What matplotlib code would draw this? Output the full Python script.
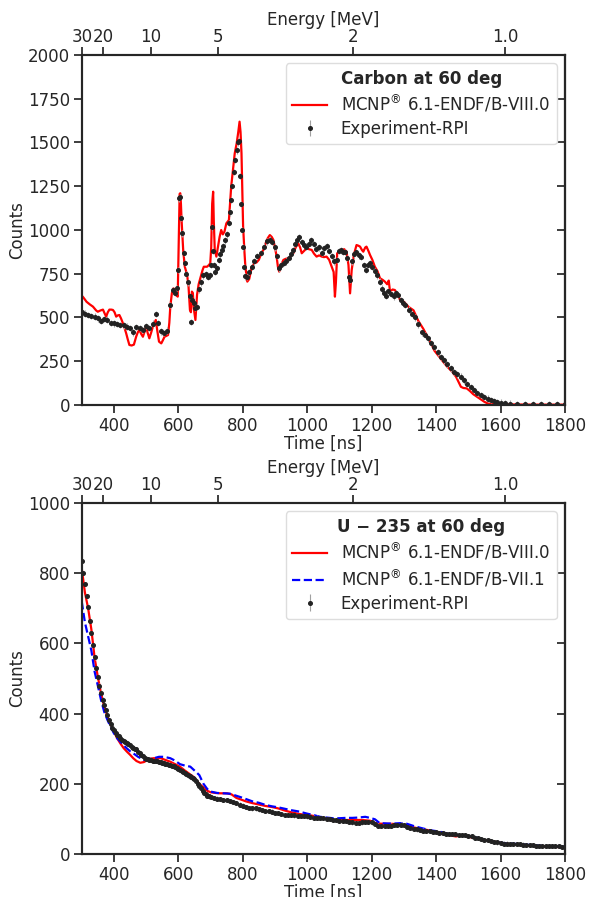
import numpy as np
import matplotlib
matplotlib.use('Agg')
import matplotlib.pyplot as plt
from matplotlib.lines import Line2D

# --- Carbon at 60 deg ---
c_exp_t = [300, 310, 320, 330, 340, 350, 360, 370, 380, 390, 400, 410, 420, 430, 440, 450, 460, 470,
           480, 490, 500, 510, 520, 530, 537, 545, 555, 565, 575, 582, 590, 596, 600, 603, 606, 609,
           612, 616, 620, 625, 630, 635, 639, 643, 648, 653, 658, 663, 670, 678, 685, 692, 698, 702,
           705, 708, 711, 715, 720, 725, 730, 735, 740, 745, 750, 756, 760, 764, 768, 772, 776, 781,
           786, 789, 792, 795, 798, 801, 804, 808, 814, 820, 828, 836, 845, 855, 865, 875, 884, 892,
           900, 907, 913, 920, 927, 935, 943, 950, 957, 963, 968, 975, 983, 990, 997, 1005, 1013, 1020,
           1028, 1036, 1045, 1053, 1060, 1068, 1076, 1084, 1091, 1098, 1105, 1112, 1118, 1124, 1130,
           1134, 1138, 1145, 1152, 1160, 1168, 1175, 1182, 1188, 1195, 1202, 1210, 1218, 1225, 1232,
           1238, 1245, 1252, 1260, 1268, 1275, 1282, 1290, 1298, 1305, 1315, 1325, 1335, 1345, 1355,
           1365, 1375, 1385, 1395, 1405, 1415, 1425, 1435, 1446, 1456, 1466, 1477, 1487, 1497, 1508,
           1518, 1528, 1538, 1550, 1560, 1570, 1580, 1590, 1600, 1615, 1630, 1650, 1675, 1700, 1725,
           1750, 1775, 1800]
c_exp_y = [530, 522, 515, 510, 505, 495, 480, 490, 488, 470, 466, 462, 458, 455, 448, 440, 415, 445,
           440, 430, 450, 440, 465, 520, 470, 420, 410, 425, 570, 655, 640, 670, 770, 1180, 1190, 1070,
           980, 870, 810, 750, 700, 620, 476, 600, 585, 555, 560, 660, 700, 740, 750, 730, 740, 800,
           1015, 880, 800, 760, 780, 830, 860, 885, 910, 940, 975, 1040, 1100, 1170, 1250, 1330, 1400, 1455,
           1500, 1510, 1310, 1150, 1000, 900, 790, 735, 730, 760, 790, 820, 850, 870, 905, 935, 945, 930,
           900, 850, 780, 800, 810, 820, 840, 865, 885, 920, 945, 960, 930, 915, 905, 920, 940, 920,
           890, 900, 870, 895, 910, 880, 850, 820, 830, 880, 885, 875, 875, 840, 730,
           715, 820, 860, 875, 855, 845, 800, 770, 800, 810, 790, 765, 740, 705, 665,
           640, 625, 650, 635, 620, 640, 630, 600, 585, 570, 545, 520, 500, 460, 415,
           400, 380, 355, 332, 300, 275, 255, 232, 209, 190, 175, 162, 140, 120, 104,
           85, 70, 57, 45, 37, 30, 24, 18, 14, 10, 8, 7, 6, 5, 5,
           5, 4, 4]
c_exp_err = 18

c_mcnp8_t = [300, 305, 315, 325, 335, 345, 350, 358, 366, 372, 376, 381, 386, 392, 397, 402, 407, 412,
             417, 422, 428, 433, 438, 443, 448, 455, 462, 469, 474, 479, 485, 490, 495, 500, 505, 510,
             515, 521, 526, 530, 535, 540, 547, 552, 557, 563, 568, 572, 575, 580, 585, 590, 594, 598,
             601, 604, 606, 608, 610, 615, 620, 626, 631, 636, 639, 642, 645, 648, 653, 658, 663, 668,
             675, 679, 689, 695, 699, 702, 705, 708, 710, 713, 718, 723, 728, 733, 738, 743, 749, 757,
             764, 770, 775, 781, 786, 790, 793, 796, 799, 801, 805, 808, 814, 820, 828, 836, 843, 850,
             858, 864, 872, 878, 884, 890, 895, 900, 905, 909, 913, 919, 926, 933, 941, 949, 957, 964,
             972, 978, 983, 990, 998, 1006, 1014, 1021, 1029, 1037, 1045, 1052, 1060, 1068, 1076, 1082,
             1086, 1089, 1093, 1100, 1107, 1115, 1122, 1128, 1133, 1138, 1145, 1153, 1159, 1164, 1170,
             1174, 1180, 1184, 1190, 1195, 1202, 1210, 1218, 1226, 1234, 1241, 1248, 1253, 1257, 1265,
             1272, 1280, 1288, 1300, 1315, 1330, 1345, 1360, 1375, 1395, 1410, 1425, 1435, 1450, 1462,
             1470, 1477, 1485, 1495, 1505, 1515, 1527, 1540, 1550, 1560, 1575, 1600, 1650, 1700, 1750, 1800]
c_mcnp8_y = [625, 615, 590, 575, 562, 540, 533, 540, 545, 520, 505, 530, 545, 545, 543, 530, 505, 512,
             514, 495, 467, 440, 410, 375, 343, 340, 345, 390, 415, 429, 405, 390, 420, 448, 410, 381,
             410, 448, 470, 486, 420, 362, 352, 370, 390, 395, 400, 470, 562, 640, 667, 650, 630, 619,
             900, 1207, 1210, 1150, 1057, 886, 790, 752, 695, 543, 530, 648, 640, 551, 486, 629, 690, 724,
             770, 790, 790, 800, 810, 900, 1150, 1219, 1050, 886, 848, 905, 960, 1000, 975, 990, 1038, 1057,
             1248, 1350, 1438, 1495, 1560, 1619, 1560, 1438, 1200, 1019, 880, 790, 705, 720, 790, 810, 815, 830,
             870, 886, 930, 955, 971, 960, 943, 900, 848, 790, 762, 800, 829, 835, 838, 850, 867, 900,
             924, 900, 867, 880, 895, 890, 886, 865, 848, 855, 848, 845, 848, 830, 790, 760,
             619, 700, 867, 880, 886, 890, 876, 800, 638, 771, 860, 914, 910, 905, 885,
             876, 900, 905, 880, 857, 830, 790, 765, 724, 715, 705, 690, 711, 648, 660,
             657, 636, 600, 590, 560, 541, 480, 436, 385, 310, 275, 240, 218, 190, 161,
             130, 104, 97, 95, 80, 62, 47, 30, 18, 9, 5, 4, 3, 2, 2, 2]

# --- U-235 at 60 deg ---
u_exp_t = [300, 305, 310, 315, 320, 325, 330, 335, 340, 345, 350, 355, 360, 365, 370, 375, 380, 385,
           390, 395, 400, 405, 410, 415, 420, 425, 430, 435, 440, 445, 450, 455, 460, 465, 470, 475,
           480, 485, 490, 495, 500, 505, 510, 515, 520, 525, 530, 535, 540, 545, 550, 555, 560, 565,
           570, 575, 580, 585, 590, 595, 600, 605, 610, 615, 620, 625, 630, 635, 640, 645, 650, 655,
           660, 665, 670, 675, 680, 685, 690, 695, 700, 710, 720, 730, 740, 750, 760, 770, 780, 790,
           800, 810, 820, 830, 840, 850, 860, 870, 880, 890, 900, 910, 920, 930, 940, 950, 960, 970,
           980, 990, 1000, 1010, 1020, 1030, 1040, 1050, 1060, 1070, 1080, 1090, 1100, 1110, 1120,
           1130, 1140, 1150, 1160, 1170, 1180, 1190, 1200, 1210, 1220, 1230, 1240, 1250, 1260, 1270,
           1280, 1290, 1300, 1310, 1320, 1330, 1340, 1350, 1360, 1370, 1380, 1390, 1400, 1410, 1420,
           1430, 1440, 1450, 1460, 1470, 1480, 1490, 1500, 1510, 1520, 1530, 1540, 1550, 1560, 1570,
           1580, 1590, 1600, 1610, 1620, 1630, 1640, 1650, 1660, 1670, 1680, 1690, 1700, 1710, 1720,
           1730, 1740, 1750, 1760, 1770, 1780, 1790, 1800]
u_exp_y = [835, 800, 770, 735, 705, 665, 630, 595, 560, 530, 505, 480, 460, 440, 425, 410, 395, 382,
           370, 360, 353, 346, 340, 335, 330, 326, 322, 318, 315, 313, 310, 306, 303, 300, 298, 292,
           287, 282, 278, 275, 272, 270, 268, 267, 266, 266, 265, 264, 263, 262, 260, 259, 257, 256,
           255, 254, 252, 250, 248, 245, 242, 239, 236, 233, 230, 227, 224, 222, 220, 217, 213, 207,
           200, 194, 188, 181, 175, 170, 166, 164, 162, 160, 158, 156, 155, 153, 151, 149, 146, 141,
           138, 135, 132, 130, 130, 127, 125, 123, 122, 121, 118, 116, 114, 112, 111, 111, 110, 109,
           108, 108, 107, 105, 104, 104, 103, 102, 101, 99, 97, 96, 95, 94, 93,
           91, 90, 89, 89, 90, 91, 92, 90, 85, 81, 80, 79, 80, 81, 82,
           83, 84, 82, 78, 75, 72, 70, 68, 67, 66, 65, 63, 62, 60, 59,
           58, 57, 56, 56, 55, 55, 54, 52, 50, 47, 45, 43, 41, 39, 37,
           35, 33, 31, 30, 30, 29, 29, 28, 28, 27, 26, 25, 25, 24, 24,
           23, 23, 22, 22, 22, 22, 21, 21]
u_exp_err = 6

u_mcnp8_t = [300, 310, 320, 330, 340, 350, 360, 370, 380, 390, 400, 410, 420, 430, 440, 450, 460, 470,
             482, 493, 505, 515, 524, 535, 545, 560, 575, 590, 605, 620, 635, 650, 665, 678, 690, 700,
             715, 730, 751, 765, 780, 795, 810, 830, 850, 870, 890, 910, 930, 950, 970, 990, 1010, 1030,
             1050, 1070, 1090, 1110, 1140, 1170, 1195, 1215, 1240, 1265, 1290, 1310, 1330, 1350, 1370,
             1390, 1410, 1430, 1450, 1462, 1475, 1490, 1510, 1530, 1550, 1570, 1600, 1630, 1660, 1690,
             1720, 1750, 1780, 1800]
u_mcnp8_y = [815, 745, 700, 640, 560, 505, 458, 420, 392, 370, 349, 330, 315, 302, 292, 283, 273, 265,
             260, 262, 268, 272, 273, 273, 273, 268, 263, 256, 249, 238, 228, 218, 200, 190, 180, 176,
             174, 173, 173, 170, 160, 155, 150, 145, 141, 137, 134, 130, 124, 119, 115, 112, 110, 107,
             103, 97, 96, 97, 97, 97, 95, 87, 86, 86, 84, 82, 76, 72, 69,
             65, 61, 57, 52, 50, 54, 52, 47, 44, 40, 37, 32, 28, 26, 24,
             22, 21, 20, 19]

u_mcnp7_t = [300, 310, 320, 330, 340, 350, 360, 370, 380, 390, 400, 410, 420, 430, 440, 450, 460, 475,
             493, 510, 524, 540, 555, 575, 590, 605, 620, 637, 650, 665, 678, 690, 700, 720, 740, 760,
             780, 800, 830, 850, 870, 890, 910, 930, 950, 975, 1000, 1020, 1040, 1060, 1080, 1100, 1120,
             1140, 1160, 1180, 1195, 1210, 1225, 1250, 1270, 1290, 1310, 1330, 1350, 1380, 1410, 1440,
             1470, 1500, 1520, 1545, 1570, 1600, 1630, 1660, 1690, 1720, 1750, 1780, 1800]
u_mcnp7_y = [720, 660, 620, 580, 520, 480, 439, 405, 382, 362, 344, 330, 320, 310, 301, 293, 287, 277,
             268, 270, 273, 277, 277, 273, 266, 256, 252, 249, 238, 225, 200, 185, 178, 174, 173, 172,
             166, 160, 150, 146, 140, 136, 133, 129, 125, 121, 115, 111, 106, 104, 102, 102, 103,
             103, 104, 106, 103, 99, 88, 87, 87, 88, 86, 80, 75, 68, 64, 57,
             54, 51, 48, 42, 37, 32, 30, 28, 26, 24, 22, 21, 21]

# Energy ticks on the top axis (time of flight, 22.3 m path)
energy_ticks = [30, 20, 10, 5, 2, 1.0]
energy_labels = ['30', '20', '10', '5', '2', '1.0']
FLIGHT_PATH = 22.3  # m

label8 = r'MCNP$^{\circledR}$ 6.1-ENDF/B-VIII.0'
label7 = r'MCNP$^{\circledR}$ 6.1-ENDF/B-VII.1'

TEXT = '#262626'
EXP_COLOR = '#222222'


def energy_to_time(e_mev):
    mn = 939.565
    gamma = 1.0 + np.asarray(e_mev, dtype=float) / mn
    beta = np.sqrt(1.0 - 1.0 / gamma ** 2)
    return FLIGHT_PATH / (beta * 0.299792458)


def style_axes(ax, ymax, ystep):
    ax.set_xlim(300, 1800)
    ax.set_ylim(0, ymax)
    ax.set_xticks(np.arange(400, 1801, 200))
    ax.set_yticks(np.arange(0, ymax + 1, ystep))
    ax.tick_params(direction='out', length=6, width=1.25, colors=TEXT, labelsize=12, pad=2.5)
    for s in ax.spines.values():
        s.set_linewidth(1.5)
        s.set_color(TEXT)
    ax.set_xlabel('Time [ns]', fontsize=12, color=TEXT, labelpad=0)
    ax.set_ylabel('Counts', fontsize=12, color=TEXT, labelpad=1)

    # inward ticks on the right spine
    right = ax.secondary_yaxis('right')
    right.set_yticks(np.arange(0, ymax + 1, ystep))
    right.tick_params(direction='in', length=6, width=1.25, colors=TEXT, labelright=False)
    right.spines['right'].set_linewidth(1.5)

    top = ax.twiny()
    top.set_xlim(300, 1800)
    top.set_xticks(energy_to_time(energy_ticks))
    top.set_xticklabels(energy_labels)
    top.tick_params(direction='out', length=6, width=1.25, colors=TEXT, labelsize=12, pad=0.5)
    top.set_xlabel('Energy [MeV]', fontsize=12, color=TEXT, labelpad=2)
    for s in top.spines.values():
        s.set_linewidth(1.5)
        s.set_color(TEXT)


def plot_exp(ax, t, y, err):
    return ax.errorbar(t, y, yerr=err, fmt='o', color=EXP_COLOR, markersize=2.6,
                       ecolor='#a0a0a0', elinewidth=0.8, capsize=0, zorder=4)


def add_legend(ax, handles, labels, title):
    leg = ax.legend(handles, labels, loc='upper right', fontsize=12,
                    title=title, title_fontproperties={'weight': 'bold', 'size': 12},
                    fancybox=True, framealpha=1.0, edgecolor='#dddddd', handlelength=2.1,
                    borderpad=0.4, labelspacing=0.3, handletextpad=0.8)
    for txt in leg.get_texts():
        txt.set_color(TEXT)
    leg.get_title().set_color(TEXT)


def main():
    fig = plt.figure(figsize=(5.89, 8.97), dpi=100)
    ax1 = fig.add_axes([0.1387, 0.5485, 0.8205, 0.3902])
    ax2 = fig.add_axes([0.1387, 0.0479, 0.8205, 0.3913])

    # Carbon
    ax1.plot(c_mcnp8_t, c_mcnp8_y, color='red', lw=1.6, zorder=3)
    e1 = plot_exp(ax1, c_exp_t, c_exp_y, c_exp_err)
    style_axes(ax1, 2000, 250)
    add_legend(ax1, [Line2D([0], [0], color='red', lw=1.6), e1],
               [label8, 'Experiment-RPI'], 'Carbon at 60 deg')

    # U-235
    ax2.plot(u_mcnp8_t, u_mcnp8_y, color='red', lw=1.6, zorder=3)
    ax2.plot(u_mcnp7_t, u_mcnp7_y, color='blue', lw=1.6, ls='--', zorder=3)
    e2 = plot_exp(ax2, u_exp_t, u_exp_y, u_exp_err)
    style_axes(ax2, 1000, 200)
    add_legend(ax2, [Line2D([0], [0], color='red', lw=1.6),
                     Line2D([0], [0], color='blue', lw=1.6, ls='--'), e2],
               [label8, label7, 'Experiment-RPI'], 'U \u2212 235 at 60 deg')

    fig.savefig('out.png', dpi=100)
    plt.close(fig)


if __name__ == '__main__':
    main()
